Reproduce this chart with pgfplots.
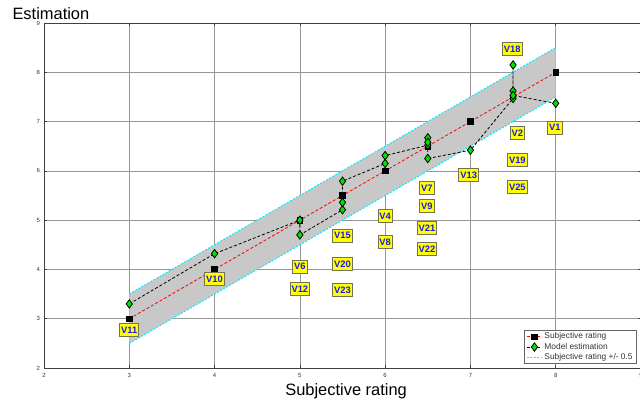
\documentclass[border=0pt]{standalone}
\usepackage{pgfplots}
\pgfplotsset{compat=1.18}
\usepackage{fontspec}
\setmainfont{Liberation Sans}
\definecolor{bandgray}{RGB}{200,200,200}
\definecolor{mgreen}{RGB}{0,225,0}
\definecolor{lblblue}{RGB}{25,25,235}
\definecolor{lblyellow}{RGB}{255,255,0}
\definecolor{lbledge}{RGB}{115,115,80}
\definecolor{gridgray}{RGB}{150,150,150}
\definecolor{bandcyan}{RGB}{0,235,255}

\pgfplotstableread{
x y
3 3
4 4
5 5
5 5
5.5 5.5
5.5 5.5
5.5 5.5
6 6
6 6
6.5 6.5
6.5 6.5
6.5 6.5
6.5 6.5
7 7
7.5 7.5
7.5 7.5
7.5 7.5
7.5 7.5
8 8
}\subjective

\pgfplotstableread{
x y
3 3.30
4 4.32
5 5.00
5 4.70
5.5 5.21
5.5 5.36
5.5 5.79
6 6.15
6 6.31
6.5 6.52
6.5 6.67
6.5 6.58
6.5 6.25
7 6.42
7.5 7.47
7.5 7.62
7.5 8.15
7.5 7.53
8 7.37
}\model

\pgfplotstableread{
x y label
3.00 2.78 V11
4.00 3.81 V10
5.00 4.06 V6
5.00 3.61 V12
5.50 4.69 V15
5.50 4.11 V20
5.50 3.59 V23
6.00 5.08 V4
6.00 4.56 V8
6.49 5.65 V7
6.49 5.29 V9
6.49 4.84 V21
6.49 4.41 V22
6.98 5.91 V13
7.49 8.47 V18
7.55 6.76 V2
7.55 6.23 V19
7.55 5.67 V25
7.99 6.88 V1
}\labels

\begin{document}
\begin{tikzpicture}
\path[use as bounding box] (-44bp,-35bp) rectangle (596bp,368bp);
\begin{axis}[
  at={(0,0)}, anchor=south west,
  scale only axis, width=597bp, height=345bp,
  xmin=2, xmax=9, ymin=2, ymax=9,
  xtick={2,3,...,9}, ytick={2,3,...,9},
  grid=major, grid style={gridgray, line width=0.6bp},
  axis line style={black!75, line width=0.6bp},
  tick align=inside, major tick length=3bp, tick style={black!75, line width=0.5bp},
  ticklabel style={font=\fontsize{6}{7}\selectfont, text=black!80},
  /pgf/number format/assume math mode=true,
  xticklabel style={yshift=-1.5bp},
  yticklabel style={xshift=-0.5bp},
  xlabel={Subjective rating},
  ylabel={Estimation},
  every axis x label/.style={at={(rel axis cs:0.506,0)}, anchor=base, yshift=-27bp, font=\fontsize{16.5}{18}\selectfont},
  every axis y label/.style={at={(rel axis cs:0,1)}, anchor=base west, xshift=-35bp, yshift=3.5bp, font=\fontsize{16.5}{18}\selectfont},
  legend style={at={(rel axis cs:0.993,0.012)}, anchor=south east,
    font=\fontsize{8.4}{10}\selectfont, text=black!80, draw=black!60, fill=white,
    inner xsep=2bp, inner ysep=0.5bp, row sep=-1.2bp, cells={anchor=west}},
  legend image code/.code={\draw[mark repeat=2,mark phase=2,#1] plot coordinates {(0bp,0bp) (7.5bp,0bp) (15bp,0bp)};},
]
\addplot[fill=bandgray, draw=none, forget plot] coordinates {(3,2.5) (8,7.5) (8,8.5) (3,3.5) (3,2.5)};
\addplot[bandcyan, dash pattern=on 2bp off 1.5bp, line width=1bp, forget plot] coordinates {(3,2.5) (8,7.5)};
\addplot[bandcyan, dash pattern=on 2bp off 1.5bp, line width=1bp, forget plot] coordinates {(3,3.5) (8,8.5)};

\addplot[red, dash pattern=on 3bp off 2bp, line width=0.8bp, mark=square*, mark size=2.8bp,
  mark options={solid, fill=black, draw=black}] table {\subjective};
\addlegendentry{Subjective rating}

\addplot[black, dash pattern=on 3bp off 2bp, line width=0.8bp, mark=diamond*, mark size=4.2bp,
  mark options={solid, fill=mgreen, draw=black, line width=0.8bp}] table {\model};
\addlegendentry{Model estimation}

\addlegendimage{bandcyan, dash pattern=on 2bp off 1.5bp, line width=1bp}
\addlegendentry{Subjective rating +/- 0.5}

\addplot[draw=none, mark=none, forget plot, nodes near coords, point meta=explicit symbolic,
  nodes near coords style={anchor=center, fill=lblyellow, draw=lbledge, line width=0.8bp,
    text=lblblue, font=\fontsize{9.4}{10}\selectfont\bfseries,
    inner xsep=1.5bp, inner ysep=3bp, text height=7bp, text depth=0bp}]
  table[meta=label] {\labels};
\end{axis}
\end{tikzpicture}
\end{document}
